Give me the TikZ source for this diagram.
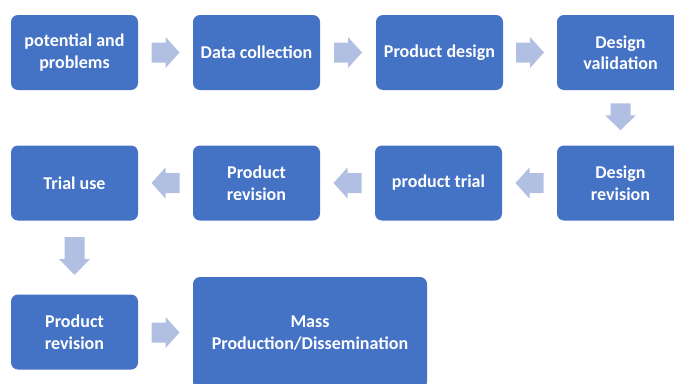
\documentclass[tikz,border=0pt]{standalone}
\usepackage{fontspec}
\setmainfont{Carlito}
\usetikzlibrary{calc}
\definecolor{boxblue}{HTML}{4472C4}
\definecolor{arrowblue}{HTML}{B1C0E2}
\tikzset{
  stepbox/.style={fill=boxblue, rounded corners=7pt, minimum width=127pt, minimum height=75pt,
    text=white, align=center, font=\bfseries\fontsize{18}{21.5}\selectfont, inner sep=2pt},
  pics/blockarr/.style n args={2}{code={
    \fill[arrowblue] (-#1,-10) -- ({#1-#2},-10) -- ({#1-#2},-15.5) -- (#1,0)
      -- ({#1-#2},15.5) -- ({#1-#2},10) -- (-#1,10) -- cycle;
  }},
}
\begin{document}
\begin{tikzpicture}[x=1pt,y=-1pt]
\useasboundingbox (0,0) rectangle (674,383);
\clip (0,0) rectangle (674,383);
% row 1
\node[stepbox] (b1) at (74.5,52.5) {potential and\\problems};
\node[stepbox] (b2) at (256.5,52.5) {Data collection};
\node[stepbox] (b3) at (439.5,52.5) {Product design};
\node[stepbox] (b4) at (620.5,52.5) {Design\\validation};
% row 2
\node[stepbox] (b5) at (620.5,183) {Design\\revision};
\node[stepbox] (b6) at (438.5,183) {product trial};
\node[stepbox] (b7) at (256.5,183) {Product\\revision};
\node[stepbox] (b8) at (74.5,183) {Trial use};
% row 3
\node[stepbox] (b9) at (74.5,332) {Product\\revision};
\node[stepbox, minimum width=234pt, minimum height=112pt] (b10) at (310,333) {Mass\\Production/Dissemination};
% arrows
\pic (a12) at ($(b1.east)!0.5!(b2.west)$) {blockarr={14}{14}};
\pic (a23) at ($(b2.east)!0.5!(b3.west)$) {blockarr={14}{14}};
\pic (a34) at ($(b3.east)!0.5!(b4.west)$) {blockarr={14}{14}};
\pic[rotate=-90] (a45) at ($(b4.south)!0.5!(b5.north)+(0,-1)$) {blockarr={13.5}{15}};
\pic[rotate=180] (a56) at ($(b5.west)!0.5!(b6.east)$) {blockarr={14}{14}};
\pic[rotate=180] (a67) at ($(b6.west)!0.5!(b7.east)$) {blockarr={14}{14}};
\pic[rotate=180] (a78) at ($(b7.west)!0.5!(b8.east)$) {blockarr={14}{14}};
\pic[rotate=-90] (a89) at ($(b8.south)!0.5!(b9.north)+(0,-1.5)$) {blockarr={19}{16}};
\pic (a910) at ($(b9.east)!0.5!(b10.west)$) {blockarr={14}{14}};
\end{tikzpicture}
\end{document}
